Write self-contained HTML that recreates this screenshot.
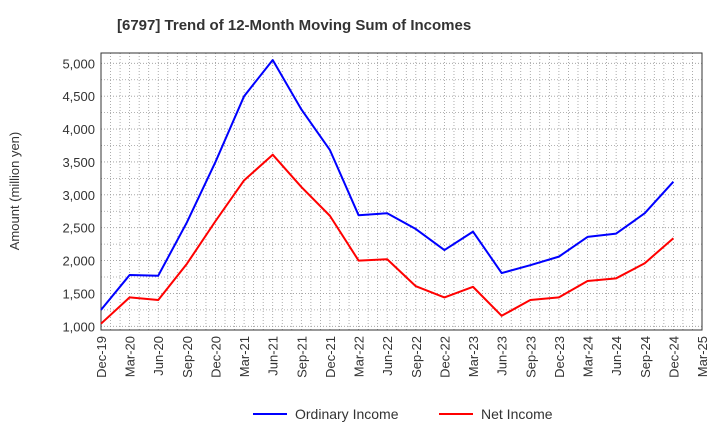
<!DOCTYPE html>
<html><head><meta charset="utf-8"><style>
body{margin:0;background:#fff;font-family:"Liberation Sans",Arial,sans-serif;}
svg text{font-family:"Liberation Sans",Arial,sans-serif;}
</style></head><body>
<svg id="chart" width="720" height="440" xmlns="http://www.w3.org/2000/svg">
<text x="117" y="30" font-size="15" font-weight="bold" fill="#333">[6797]  Trend of 12-Month Moving Sum of Incomes</text>
<text transform="translate(19,191) rotate(-90)" text-anchor="middle" font-size="13" fill="#333">Amount (million yen)</text>
<g id="grid"></g><g id="axes"></g><g id="series"></g>
<g>
<line x1="253" y1="414" x2="287" y2="414" stroke="#0000ff" stroke-width="2"/>
<text x="295" y="419" font-size="14" fill="#333">Ordinary Income</text>
<line x1="439" y1="414" x2="473" y2="414" stroke="#ff0000" stroke-width="2"/>
<text x="481" y="419" font-size="14" fill="#333">Net Income</text>
</g>
</svg>
<script>
const categories=["Dec-19","Mar-20","Jun-20","Sep-20","Dec-20","Mar-21","Jun-21","Sep-21","Dec-21","Mar-22","Jun-22","Sep-22","Dec-22","Mar-23","Jun-23","Sep-23","Dec-23","Mar-24","Jun-24","Sep-24","Dec-24","Mar-25"];
const ordinaryIncome=[1250,1780,1770,2580,3500,4500,5050,4300,3680,2690,2720,2480,2160,2440,1810,1930,2060,2360,2410,2720,3200];
const netIncome=[1040,1440,1400,1950,2600,3220,3610,3120,2680,2000,2020,1610,1440,1600,1160,1400,1440,1690,1730,1960,2340];
const yTicks=[1000,1500,2000,2500,3000,3500,4000,4500,5000];
const yTickLabels=["1,000","1,500","2,000","2,500","3,000","3,500","4,000","4,500","5,000"];
const L=101,R=702,T=53,B=330,yMin=944,yMax=5157;
const NS="http://www.w3.org/2000/svg";
function X(i){return L+(R-L)*i/(categories.length-1);}
function Y(v){return B-(v-yMin)/(yMax-yMin)*(B-T);}
function mk(tag,attrs,parent){const e=document.createElementNS(NS,tag);for(const k in attrs)e.setAttribute(k,attrs[k]);parent.appendChild(e);return e;}
const grid=document.getElementById('grid'),axes=document.getElementById('axes'),series=document.getElementById('series');
const nMonths=(categories.length-1)*3;
for(let m=1;m<nMonths;m++){const x=L+(R-L)*m/nMonths;
const g=mk('line',{x1:x,x2:x,y1:T,y2:B,stroke:'#999','stroke-width':0.8,'stroke-dasharray':'1,2'},grid);

}
for(let v=1000;v<=5000;v+=250){const y=Y(v);
const g=mk('line',{x1:L,x2:R,y1:y,y2:y,stroke:'#999','stroke-width':0.8,'stroke-dasharray':'1,2'},grid);

}
const frame=mk('rect',{x:L,y:T,width:R-L,height:B-T,fill:'none',stroke:'#333','stroke-width':1},axes);


yTicks.forEach((v,i)=>{const t=mk('text',{x:L-6,y:Y(v)+5,'text-anchor':'end','font-size':13,fill:'#333'},axes);t.textContent=yTickLabels[i];

});
categories.forEach((c,i)=>{const x=X(i);const t=mk('text',{transform:`translate(${x+5},${B+6}) rotate(-90)`,'text-anchor':'end','font-size':13,fill:'#333'},axes);t.textContent=c;

});
function line(data,color,name){const p=mk('polyline',{points:data.map((v,i)=>X(i)+','+Y(v)).join(' '),fill:'none',stroke:color,'stroke-width':2,'stroke-linejoin':'round'},series);

}
line(ordinaryIncome,'#0000ff','ordinary-income-line');
line(netIncome,'#ff0000','net-income-line');
</script>
</body></html>
